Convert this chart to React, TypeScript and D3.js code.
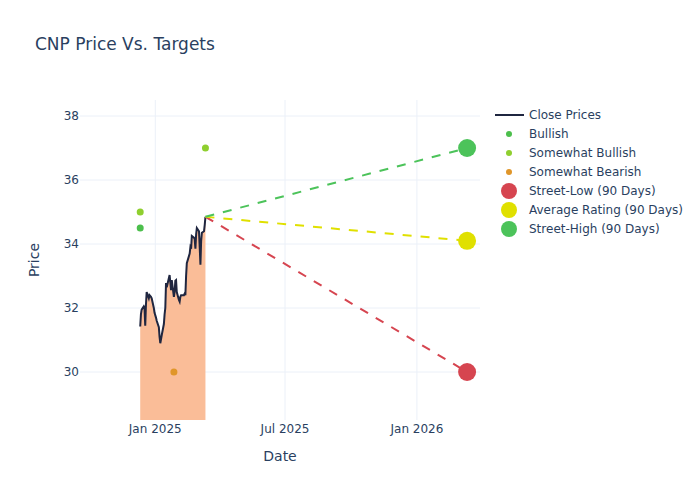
import { area, line, scaleLinear, scaleTime, timeFormat, timeMonth } from "d3";

const WIDTH = 700;
const HEIGHT = 500;
const PLOT = { left: 80, right: 480, top: 100, bottom: 420 };
const FONT = "DejaVu Sans, Verdana, sans-serif";
const TEXT = "#2a3f5f";
const GRID = "#ebf0f8";

const closeDates = [
  "2024-12-11", "2024-12-12", "2024-12-13", "2024-12-16", "2024-12-17", "2024-12-18",
  "2024-12-19", "2024-12-20", "2024-12-23", "2024-12-24", "2024-12-26", "2024-12-27",
  "2024-12-30", "2024-12-31", "2025-01-02", "2025-01-03", "2025-01-06", "2025-01-07",
  "2025-01-08", "2025-01-10", "2025-01-13", "2025-01-14", "2025-01-15", "2025-01-16",
  "2025-01-17", "2025-01-21", "2025-01-22", "2025-01-23", "2025-01-24", "2025-01-27",
  "2025-01-28", "2025-01-29", "2025-01-30", "2025-01-31", "2025-02-03", "2025-02-04",
  "2025-02-05", "2025-02-06", "2025-02-07", "2025-02-10", "2025-02-11", "2025-02-12",
  "2025-02-13", "2025-02-14", "2025-02-18", "2025-02-19", "2025-02-20", "2025-02-21",
  "2025-02-24", "2025-02-25", "2025-02-26", "2025-02-27", "2025-02-28", "2025-03-03",
  "2025-03-04", "2025-03-05", "2025-03-06", "2025-03-07", "2025-03-10", "2025-03-11",
  "2025-03-12",
];
const closePrices = [
  31.42, 31.8, 31.95, 32.05, 32.0, 31.45,
  32.1, 32.5, 32.3, 32.4, 32.35, 32.3,
  32.0, 31.85, 31.7, 31.6, 31.4, 31.1,
  30.9, 31.15, 31.5, 31.8, 32.0, 32.78,
  32.65, 33.03, 32.8, 32.56, 32.87, 32.35,
  32.5, 32.85, 32.87, 32.5, 32.25, 32.2,
  32.35, 32.4, 32.4, 32.4, 32.45, 32.4,
  33.0, 33.4, 33.7, 33.9, 33.85, 34.25,
  34.2, 34.15, 33.85, 34.3, 34.5, 34.4,
  33.9, 33.35, 34.1, 34.35, 34.4, 34.6,
  34.85,
];

const ratingNames = ["Bullish", "Somewhat Bullish", "Somewhat Bearish"];
const ratingColors = ["#4cbf4c", "#8fcf2f", "#e0962a"];
const ratingDates = [["2024-12-11"], ["2024-12-11", "2025-03-12"], ["2025-01-27"]];
const ratingTargets = [[34.5], [35.0, 37.0], [30.0]];

const targetNames = ["Street-Low (90 Days)", "Average Rating (90 Days)", "Street-High (90 Days)"];
const targetColors = ["#d64550", "#e0e000", "#4cc35a"];
const targetValues = [30.0, 34.1, 37.0];
const targetDate = "2026-03-12";

const yTicks = [30, 32, 34, 36, 38];

const parse = (s: string) => new Date(s + "T00:00:00");

export default function App() {
  const x = scaleTime()
    .domain([parse("2024-09-18"), parse("2026-03-30")])
    .range([PLOT.left, PLOT.right]);
  const y = scaleLinear().domain([28.5, 38.5]).range([PLOT.bottom, PLOT.top]);

  const series = closeDates.map((d, i) => ({ date: parse(d), value: closePrices[i] }));
  const linePath = line<{ date: Date; value: number }>()
    .x((d) => x(d.date))
    .y((d) => y(d.value))(series);
  const areaPath = area<{ date: Date; value: number }>()
    .x((d) => x(d.date))
    .y0(PLOT.bottom)
    .y1((d) => y(d.value))(series);

  const last = series[series.length - 1];
  const xTicks = x.ticks(timeMonth.every(6)!);
  const fmt = timeFormat("%b %Y");

  const legendX = 495;
  const legendY = 115;
  const legendStep = 19;

  return (
    <svg width={WIDTH} height={HEIGHT} style={{ display: "block", position: "absolute", left: 0, top: 0 }} fontFamily={FONT}>
      <rect width={WIDTH} height={HEIGHT} fill="#fff" />
      <text x={35} y={50} fontSize={17} fill={TEXT}>CNP Price Vs. Targets</text>

      {xTicks.map((t) => (
        <line key={+t} x1={x(t)} x2={x(t)} y1={PLOT.top} y2={PLOT.bottom} stroke={GRID} strokeWidth={1} />
      ))}
      {yTicks.map((t) => (
        <line key={t} x1={PLOT.left} x2={PLOT.right} y1={y(t)} y2={y(t)} stroke={GRID} strokeWidth={1} />
      ))}

      <path d={areaPath ?? ""} fill="#fabd98" />
      <path d={linePath ?? ""} fill="none" stroke="#1f2640" strokeWidth={2} />

      {targetValues.map((v, i) => (
        <line
          key={targetNames[i]}
          x1={x(last.date)}
          y1={y(last.value)}
          x2={x(parse(targetDate))}
          y2={y(v)}
          stroke={targetColors[i]}
          strokeWidth={2}
          strokeDasharray="9,9"
        />
      ))}

      {ratingNames.map((name, i) =>
        ratingDates[i].map((d, j) => (
          <circle key={name + j} cx={x(parse(d))} cy={y(ratingTargets[i][j])} r={3.5} fill={ratingColors[i]} />
        ))
      )}

      {targetValues.map((v, i) => (
        <circle key={targetNames[i]} cx={x(parse(targetDate))} cy={y(v)} r={9} fill={targetColors[i]} />
      ))}

      {yTicks.map((t) => (
        <text key={t} x={PLOT.left - 1} y={y(t)} dy="0.35em" textAnchor="end" fontSize={12} fill={TEXT}>
          {t}
        </text>
      ))}
      {xTicks.map((t) => (
        <text key={+t} x={x(t)} y={433} textAnchor="middle" fontSize={12} fill={TEXT}>
          {fmt(t)}
        </text>
      ))}
      <text x={(PLOT.left + PLOT.right) / 2} y={461} textAnchor="middle" fontSize={14} fill={TEXT}>Date</text>
      <text transform={`translate(39,${(PLOT.top + PLOT.bottom) / 2}) rotate(-90)`} textAnchor="middle" fontSize={14} fill={TEXT}>
        Price
      </text>

      <g>
        <line x1={legendX} x2={legendX + 29} y1={legendY} y2={legendY} stroke="#1f2640" strokeWidth={2} />
        <text x={legendX + 34} y={legendY} dy="0.35em" fontSize={12} fill={TEXT}>Close Prices</text>
        {ratingNames.map((name, i) => (
          <g key={name}>
            <circle cx={legendX + 14} cy={legendY + legendStep * (i + 1)} r={3} fill={ratingColors[i]} />
            <text x={legendX + 34} y={legendY + legendStep * (i + 1)} dy="0.35em" fontSize={12} fill={TEXT}>{name}</text>
          </g>
        ))}
        {targetNames.map((name, i) => (
          <g key={name}>
            <circle cx={legendX + 14} cy={legendY + legendStep * (i + 4)} r={8} fill={targetColors[i]} />
            <text x={legendX + 34} y={legendY + legendStep * (i + 4)} dy="0.35em" fontSize={12} fill={TEXT}>{name}</text>
          </g>
        ))}
      </g>
    </svg>
  );
}
